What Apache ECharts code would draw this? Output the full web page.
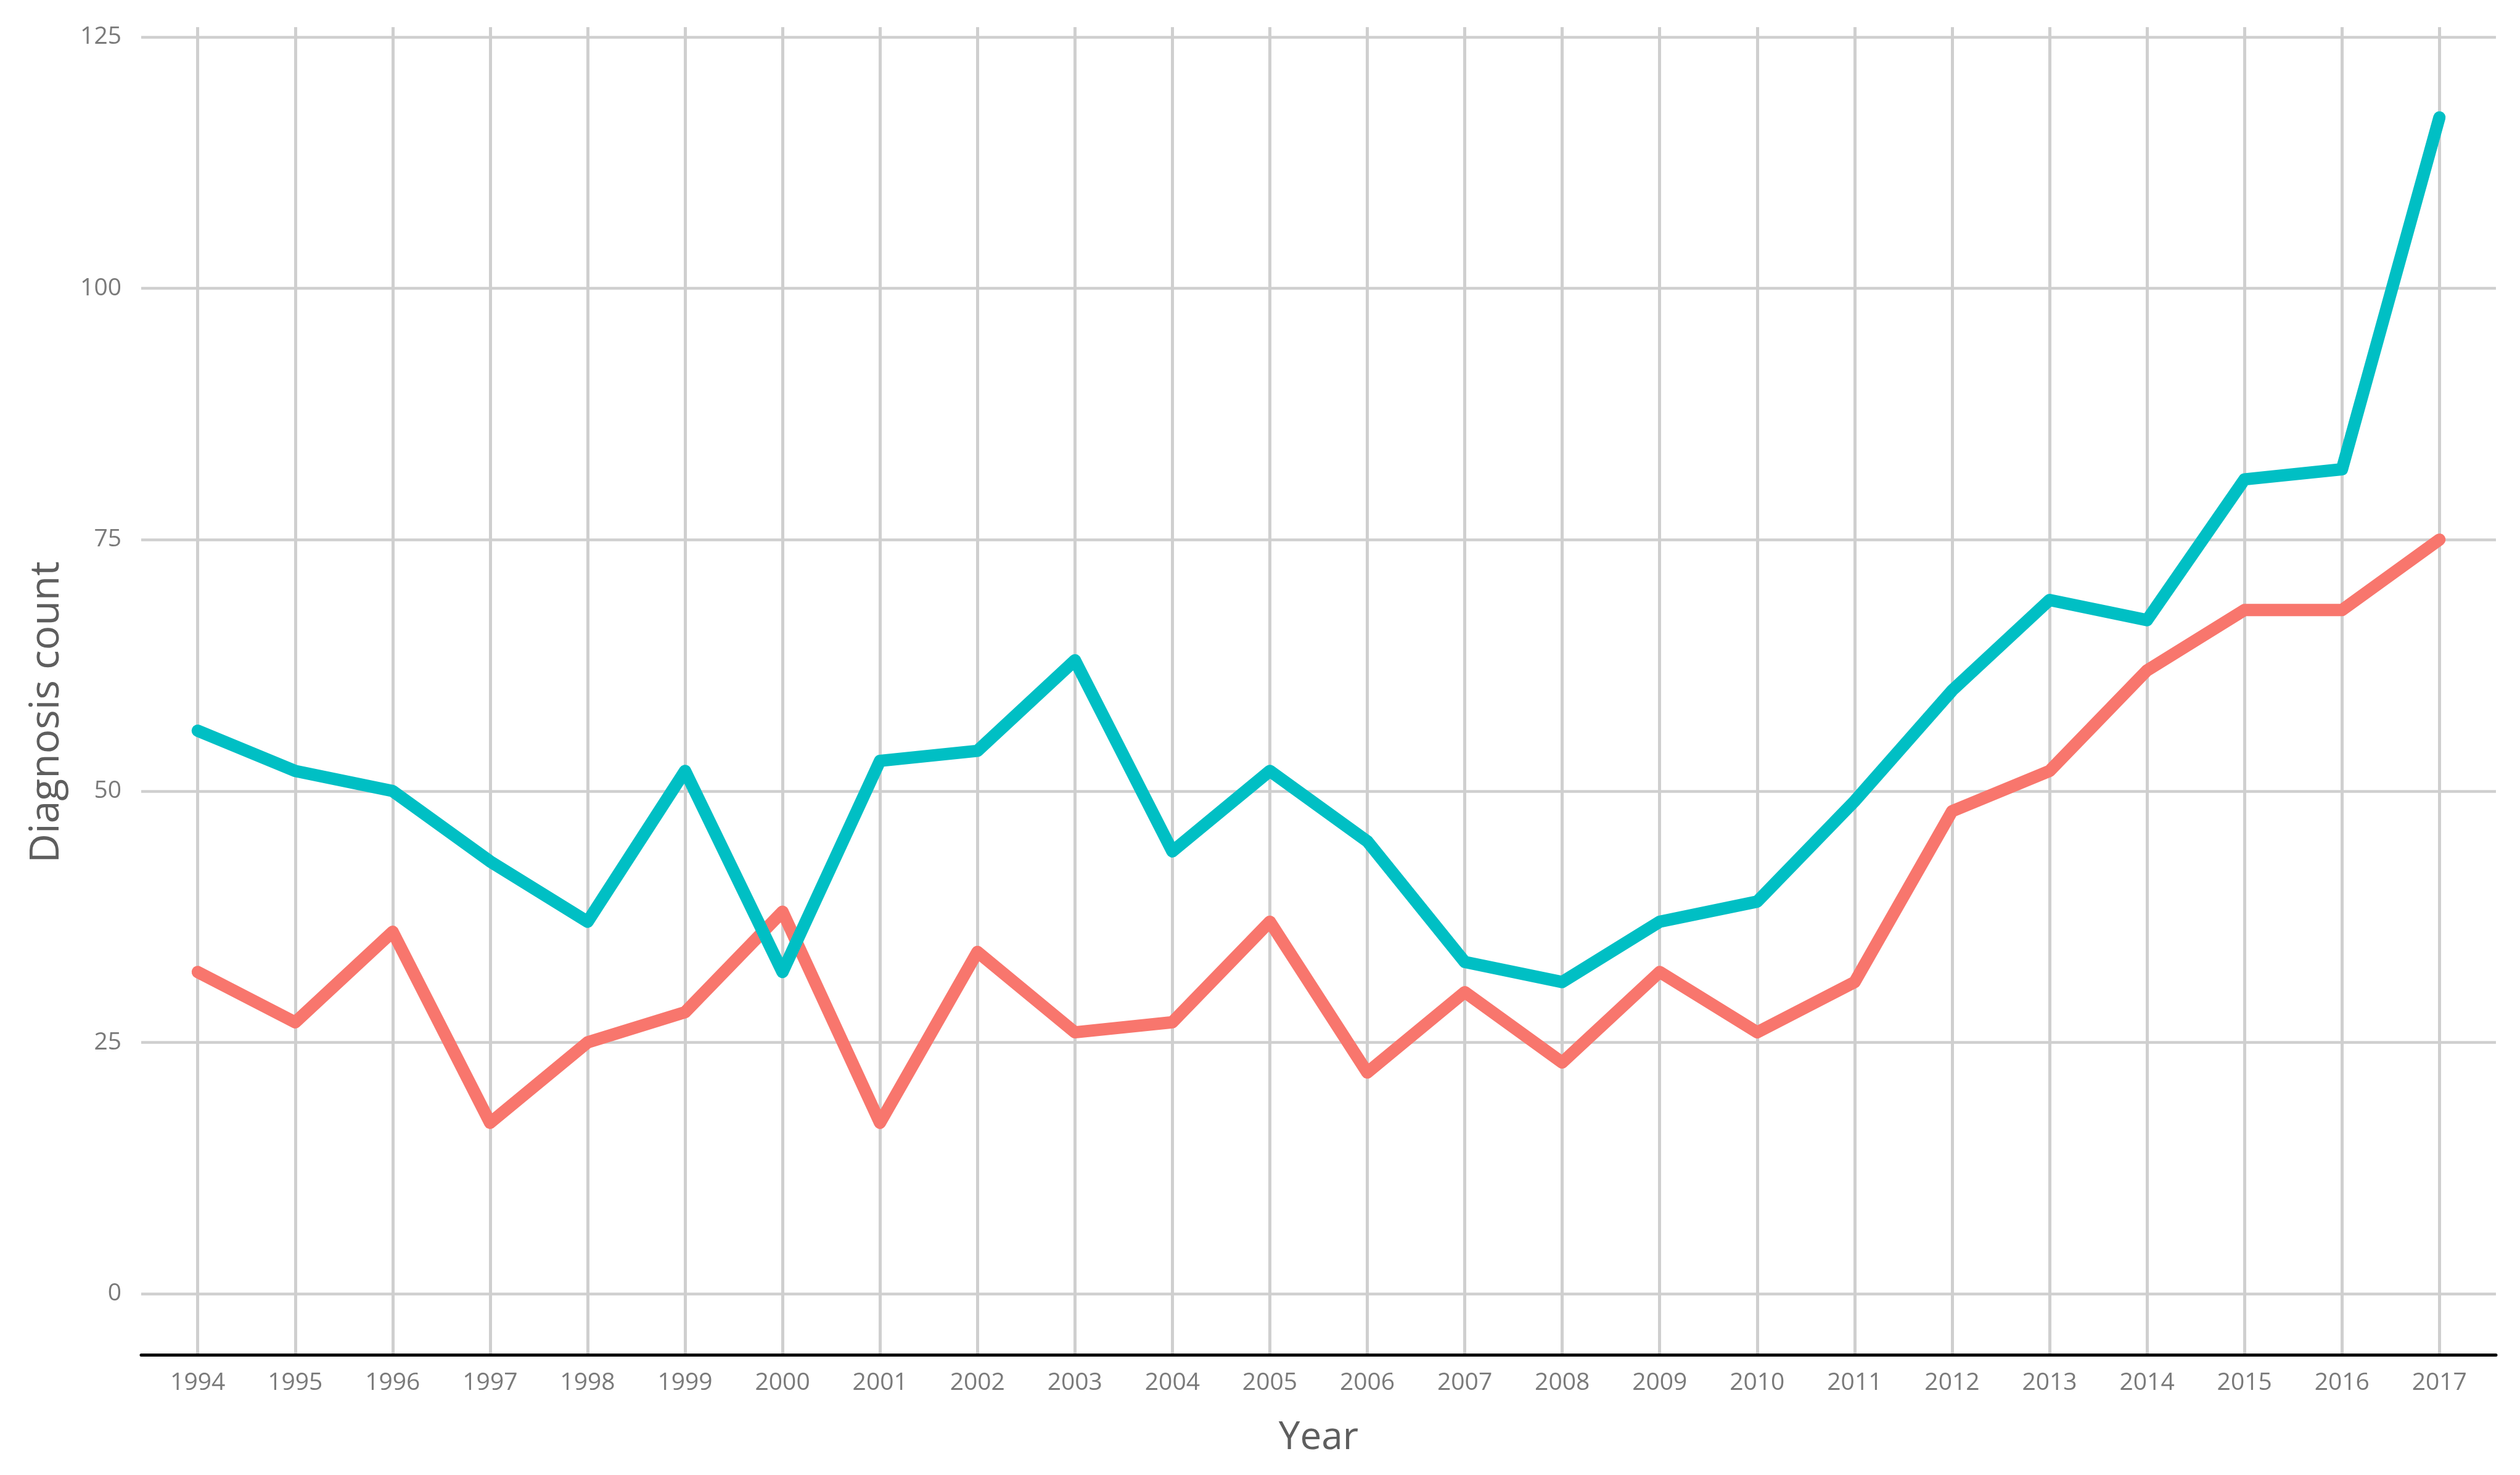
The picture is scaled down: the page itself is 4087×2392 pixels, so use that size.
<!DOCTYPE html>
<html><head><meta charset="utf-8">
<script src="https://cdn.jsdelivr.net/npm/echarts@6/dist/echarts.min.js"></script>
<style>html,body{margin:0;padding:0;background:#fff}#c{width:4087px;height:2392px}</style>
</head><body><div id="c"></div>
<script>
const years = [1994,1995,1996,1997,1998,1999,2000,2001,2002,2003,2004,2005,2006,2007,2008,2009,2010,2011,2012,2013,2014,2015,2016,2017];
const tealCounts = [56,52,50,43,37,52,32,53,54,63,44,52,45,33,31,37,39,49,60,69,67,81,82,117];
const salmonCounts = [32,27,36,17,25,28,38,17,34,26,27,37,22,30,23,32,26,31,48,52,62,68,68,75];
const yTicks = [0,25,50,75,100,125];
const xTitle = 'Year';
const yTitle = 'Diagnosis count';

const FONT = '"Open Sans", "Noto Sans", sans-serif';
const chart = echarts.init(document.getElementById('c'), null, {renderer: 'canvas'});
const pairs = arr => years.map((y, i) => [y, arr[i]]);
chart.setOption({
  animation: false,
  backgroundColor: '#ffffff',
  grid: {left: 229, right: 39, top: 44, bottom: 195, containLabel: false},
  graphic: [{
    type: 'text', x: 76, y: 1155, rotation: Math.PI / 2,
    style: {text: yTitle, fontSize: 66, fill: '#5e5e5e', fontFamily: FONT, align: 'center', verticalAlign: 'middle'}
  }],
  xAxis: {
    type: 'value', min: 1993.42, max: 2017.58,
    name: xTitle, nameLocation: 'middle', nameGap: 104,
    nameTextStyle: {fontSize: 62, color: '#5e5e5e', fontFamily: FONT},
    axisLine: {show: true, onZero: false, lineStyle: {color: '#000000', width: 5}},
    axisTick: {show: false, customValues: years},
    axisLabel: {customValues: years, formatter: v => String(v), fontSize: 39, color: '#7a7a7a', fontFamily: FONT, margin: 26},
    splitLine: {show: true, lineStyle: {color: '#cfcfcf', width: 5}}
  },
  yAxis: {
    type: 'value', min: -6.07, max: 125.98,
    axisLine: {show: false},
    axisTick: {show: false, customValues: yTicks},
    axisLabel: {customValues: yTicks, fontSize: 39, color: '#7a7a7a', fontFamily: FONT, margin: 32},
    splitLine: {show: true, lineStyle: {color: '#cfcfcf', width: 4.5}}
  },
  series: [
    {type: 'line', name: 'salmon', data: pairs(salmonCounts), symbol: 'none', z: 3,
     lineStyle: {color: '#F8766D', width: 20, cap: 'round', join: 'round'}},
    {type: 'line', name: 'teal', data: pairs(tealCounts), symbol: 'none', z: 4,
     lineStyle: {color: '#00BFC4', width: 20, cap: 'round', join: 'round'}}
  ]
});
</script></body></html>
